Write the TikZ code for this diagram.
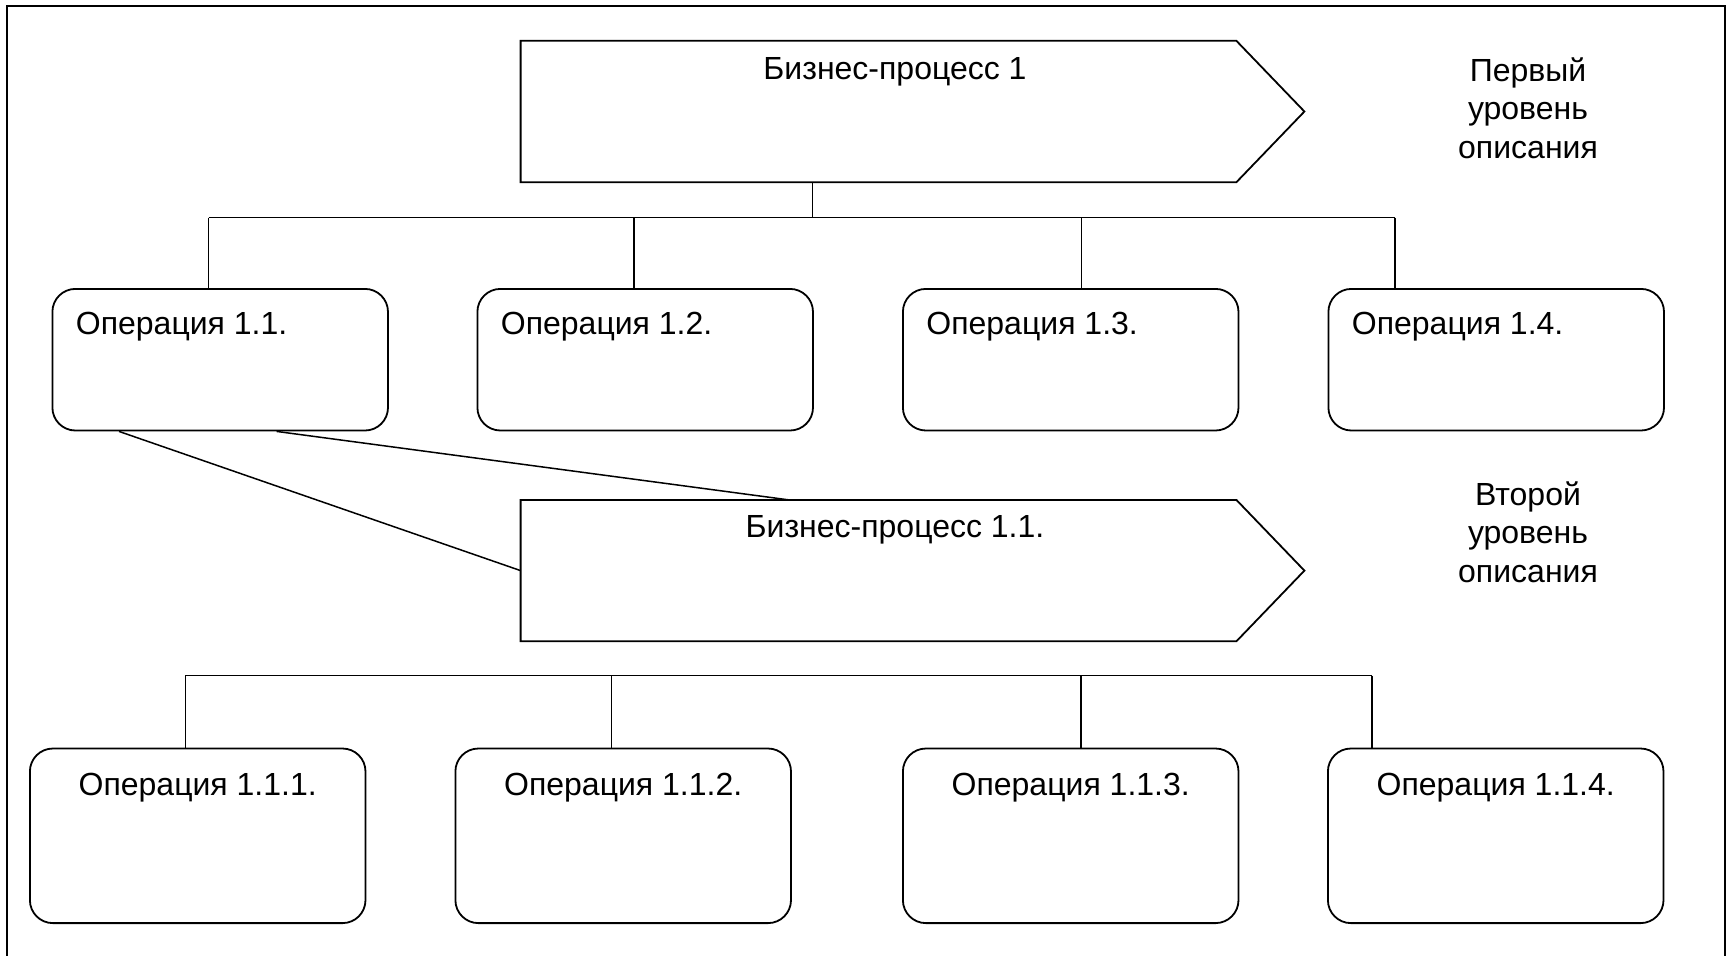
\documentclass[tikz,border=0pt]{standalone}
\usepackage{fontspec}
\setmainfont{Liberation Sans}
\usetikzlibrary{calc}
\begin{document}
\begin{tikzpicture}[x=0.5pt,y=-0.5pt,
  frame/.style={line width=1.2pt},
  opbox/.style={draw, line width=0.9pt, rounded corners=11.5pt, inner sep=0pt,
    minimum width=167.8pt, anchor=north west},
  opone/.style={opbox, minimum height=70.8pt},
  optwo/.style={opbox, minimum height=87.3pt},
  procbody/.style={inner sep=0pt, minimum width=357.5pt, minimum height=70.3pt},
  procline/.style={line width=0.9pt, line join=miter},
  wire/.style={line width=0.75pt},
  txt/.style={font=\fontsize{16pt}{19.3pt}\selectfont, inner sep=0pt},
  side/.style={txt, align=center}
]
\useasboundingbox (0,0) rectangle (1734,955);

% outer frame (bottom edge lies below the page)
\draw[frame] (7,960) -- (7,6) -- (1725,6) -- (1725,960);

% ---------- first level ----------
\node[procbody] (bp1) at (878.5,111.5) {};
\draw[procline] (bp1.north west) -- (bp1.north east) -- ($(bp1.east)+(68,0)$)
  -- (bp1.south east) -- (bp1.south west) -- cycle;
\node[txt] (bp1t) at (895,72) {Бизнес-процесс 1};
\node[side] (lvl1) at (1528,108) {Первый\\уровень\\описания};

\node[opone] (op11) at (51.5,288) {};
\node[opone] (op12) at (476.5,288) {};
\node[opone] (op13) at (902,288) {};
\node[opone] (op14) at (1327.5,288) {};

\node[txt, anchor=west] (op11t) at ($(op11.north west)+(24,39)$) {Операция 1.1.};
\node[txt, anchor=west] (op12t) at ($(op12.north west)+(24,39)$) {Операция 1.2.};
\node[txt, anchor=west] (op13t) at ($(op13.north west)+(24,39)$) {Операция 1.3.};
\node[txt, anchor=west] (op14t) at ($(op14.north west)+(24,39)$) {Операция 1.4.};

\coordinate (b1s) at (812.4,217.7);
\coordinate (b1a) at (208.6,217.7);
\coordinate (b1b) at (633.8,217.7);
\coordinate (b1c) at (1081.6,217.7);
\coordinate (b1d) at (1394.8,217.7);
\draw[wire] (b1s |- bp1.south) -- (b1s);
\draw[wire] (b1a) -- (b1d);
\draw[wire] (b1a) -- (b1a |- op11.north);
\draw[wire] (b1b) -- (b1b |- op12.north);
\draw[wire] (b1c) -- (b1c |- op13.north);
\draw[wire] (b1d) -- (b1d |- op14.north);

% ---------- second level ----------
\node[procbody] (bp11) at (878.5,570.6) {};
\draw[procline] (bp11.north west) -- (bp11.north east) -- ($(bp11.east)+(68,0)$)
  -- (bp11.south east) -- (bp11.south west) -- cycle;
\node[txt] (bp11t) at (895,530) {Бизнес-процесс 1.1.};
\node[side] (lvl2) at (1528,532) {Второй\\уровень\\описания};

% zoom-out lines from operation 1.1 to its process
\draw[wire] ($(op11.south west)!0.2!(op11.south east)$) -- (bp11.west);
\draw[wire] ($(op11.south west)!0.667!(op11.south east)$)
  -- ($(bp11.north west)!0.375!(bp11.north east)$);

\node[optwo] (op111) at (29,747.6) {};
\node[optwo] (op112) at (454.5,747.6) {};
\node[optwo] (op113) at (902,747.6) {};
\node[optwo] (op114) at (1327,747.6) {};

\node[txt] (op111t) at ($(op111.north)+(0,40)$) {Операция 1.1.1.};
\node[txt] (op112t) at ($(op112.north)+(0,40)$) {Операция 1.1.2.};
\node[txt] (op113t) at ($(op113.north)+(0,40)$) {Операция 1.1.3.};
\node[txt] (op114t) at ($(op114.north)+(0,40)$) {Операция 1.1.4.};

\coordinate (b2a) at (185.4,675.7);
\coordinate (b2b) at (611.4,675.7);
\coordinate (b2c) at (1081,675.7);
\coordinate (b2d) at (1372,675.7);
\draw[wire] (b2a) -- (b2d);
\draw[wire] (b2a) -- (b2a |- op111.north);
\draw[wire] (b2b) -- (b2b |- op112.north);
\draw[wire] (b2c) -- (b2c |- op113.north);
\draw[wire] (b2d) -- (b2d |- op114.north);
\end{tikzpicture}
\end{document}
